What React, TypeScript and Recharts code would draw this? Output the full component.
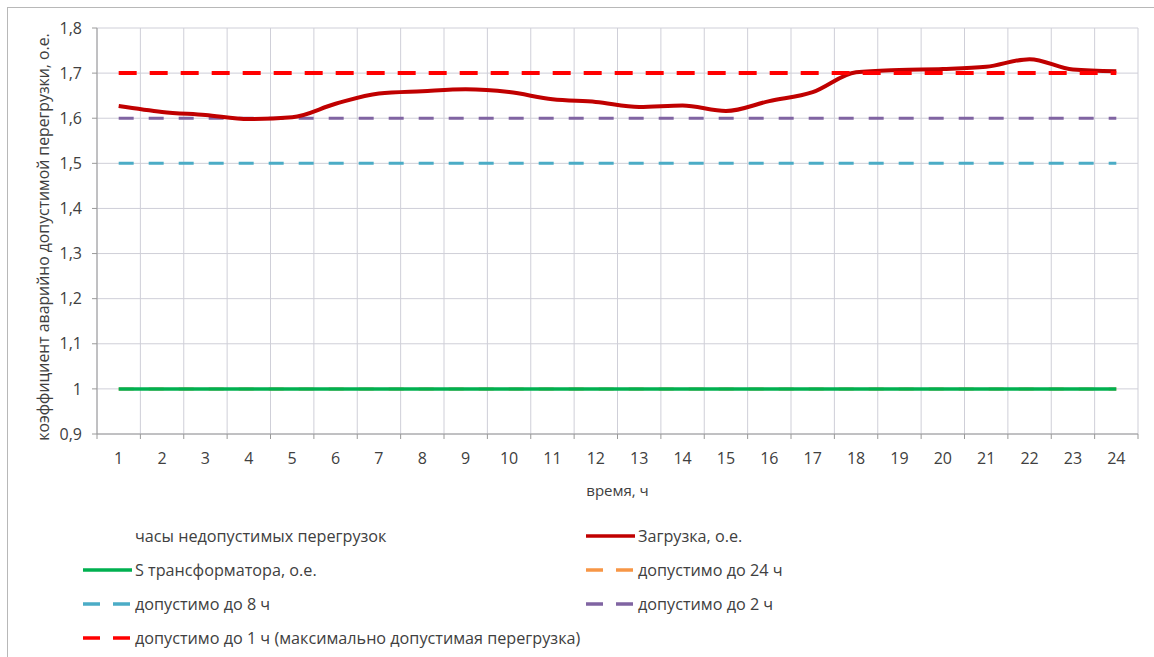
import { LineChart, Line, XAxis, YAxis, CartesianGrid, Legend } from "recharts";

const hours = [1, 2, 3, 4, 5, 6, 7, 8, 9, 10, 11, 12, 13, 14, 15, 16, 17, 18, 19, 20, 21, 22, 23, 24];
const hourEdges = [0.5, 1.5, 2.5, 3.5, 4.5, 5.5, 6.5, 7.5, 8.5, 9.5, 10.5, 11.5, 12.5, 13.5, 14.5, 15.5, 16.5, 17.5, 18.5, 19.5, 20.5, 21.5, 22.5, 23.5, 24.5];
const yTicks = [0.9, 1, 1.1, 1.2, 1.3, 1.4, 1.5, 1.6, 1.7, 1.8];
const xDomain: [number, number] = [0.5, 24.5];

// загрузка трансформатора по часам, о.е.
const load = [1.627, 1.614, 1.607, 1.598, 1.602, 1.632, 1.655, 1.66, 1.664, 1.658, 1.642, 1.636, 1.625, 1.628, 1.616, 1.638, 1.658, 1.702, 1.707, 1.709, 1.714, 1.731, 1.708, 1.704];

// постоянные уровни
const sTransformer = 1;
const allowed24h = 1;
const allowed8h = 1.5;
const allowed2h = 1.6;
const allowed1h = 1.7;

const table = hours.map((h, i) => ({
  hour: h,
  load: load[i],
  s: sTransformer,
  a24: allowed24h,
  a8: allowed8h,
  a2: allowed2h,
  a1: allowed1h,
}));

const font = "'Open Sans', 'Noto Sans', sans-serif";
const textColor = "#404040";
const axisColor = "#9a9a9a";

type Item = { name: string; color?: string; dash?: boolean };

const legendItems: Item[] = [
  { name: "часы недопустимых перегрузок" },
  { name: "Загрузка, о.е.", color: "#c00000" },
  { name: "S трансформатора, о.е.", color: "#00b050" },
  { name: "допустимо до 24 ч", color: "#f79646", dash: true },
  { name: "допустимо до 8 ч", color: "#4bacc6", dash: true },
  { name: "допустимо до 2 ч", color: "#8064a2", dash: true },
  { name: "допустимо до 1 ч (максимально допустимая перегрузка)", color: "#ff0000", dash: true },
];

const LegendBox = () => (
  <div
    style={{
      display: "grid",
      gridTemplateColumns: "503px 1fr",
      gridAutoRows: "34px",
      paddingLeft: 83,
      paddingTop: 15,
      fontFamily: font,
      fontSize: 16.2,
      color: textColor,
      textAlign: "left",
    }}
  >
    {legendItems.map((it) => (
      <div key={it.name} style={{ display: "flex", alignItems: "center", whiteSpace: "nowrap" }}>
        <svg width={52} height={10} style={{ flex: "none" }}>
          {it.color && (
            <line
              x1={0}
              x2={49}
              y1={5}
              y2={5}
              stroke={it.color}
              strokeWidth={3.5}
              strokeDasharray={it.dash ? "17 13" : undefined}
            />
          )}
        </svg>
        <span>{it.name}</span>
      </div>
    ))}
  </div>
);

const fmt = (v: number) => String(v).replace(".", ",");

// вертикальная сетка по границам часов
const edgeLines = ({ xAxis, offset }: any) =>
  hourEdges.map((v) => {
    const sc = xAxis && xAxis.scale;
    if (typeof sc === "function") return sc(v);
    if (sc && typeof sc.map === "function") return sc.map(v);
    return offset.left + ((v - xDomain[0]) / (xDomain[1] - xDomain[0])) * offset.width;
  });

export default function App() {
  return (
    <div style={{ position: "absolute", left: 0, top: 0, width: 1154, height: 657, background: "#fff" }}>
      <div
        style={{
          position: "absolute",
          left: 7,
          top: 7,
          width: 1147,
          height: 650,
          borderLeft: "1.5px solid #b8b8b8",
          borderTop: "1.5px solid #b8b8b8",
        }}
      />
      <div style={{ position: "absolute", left: 0, top: 0 }}>
        <LineChart
          width={1154}
          height={657}
          data={table}
          margin={{ top: 28, right: 16, bottom: 0, left: 0 }}
          style={{ fontFamily: font }}
        >
          <CartesianGrid
            xAxisId="hours"
            stroke="#cfcfd8"
            strokeWidth={1}
            verticalCoordinatesGenerator={edgeLines}
          />
          <XAxis
            xAxisId="edges"
            dataKey="hour"
            type="number"
            domain={xDomain}
            ticks={hourEdges}
            interval={0}
            height={1}
            tickSize={5}
            tick={{ fontSize: 1, fill: "transparent" }}
            axisLine={{ stroke: axisColor }}
            tickLine={{ stroke: axisColor }}
          />
          <XAxis
            xAxisId="hours"
            dataKey="hour"
            type="number"
            domain={xDomain}
            ticks={hours}
            interval={0}
            height={69}
            axisLine={false}
            tickLine={false}
            tickSize={0}
            tickMargin={18}
            tick={{ fontSize: 16, fill: textColor }}
            label={{ value: "время, ч", position: "insideBottom", offset: 8, fontSize: 15, fill: textColor }}
          />
          <YAxis
            domain={[0.9, 1.8]}
            ticks={yTicks}
            interval={0}
            width={97}
            tickFormatter={fmt}
            tickSize={5}
            tickMargin={10}
            axisLine={{ stroke: axisColor }}
            tickLine={{ stroke: axisColor }}
            tick={{ fontSize: 16, fill: textColor }}
            label={{
              value: "коэффициент аварийно допустимой перегрузки, о.е.",
              angle: -90,
              position: "center",
              dx: -5,
              dy: 6,
              fontSize: 15.8,
              fill: textColor,
            }}
          />
          <Legend verticalAlign="bottom" height={153} content={() => <LegendBox />} />
          <Line xAxisId="hours" dataKey="a24" name="допустимо до 24 ч" stroke="#f79646" strokeWidth={3} strokeDasharray="15 15" dot={false} isAnimationActive={false} />
          <Line xAxisId="hours" dataKey="s" name="S трансформатора, о.е." stroke="#00b050" strokeWidth={3.5} dot={false} isAnimationActive={false} />
          <Line xAxisId="hours" dataKey="a8" name="допустимо до 8 ч" stroke="#4bacc6" strokeWidth={3} strokeDasharray="15 15" dot={false} isAnimationActive={false} />
          <Line xAxisId="hours" dataKey="a2" name="допустимо до 2 ч" stroke="#8064a2" strokeWidth={3} strokeDasharray="15 15" dot={false} isAnimationActive={false} />
          <Line xAxisId="hours" type="monotone" dataKey="load" name="Загрузка, о.е." stroke="#c00000" strokeWidth={4} dot={false} isAnimationActive={false} />
          <Line xAxisId="hours" dataKey="a1" name="допустимо до 1 ч (максимально допустимая перегрузка)" stroke="#ff0000" strokeWidth={4} strokeDasharray="18 13" dot={false} isAnimationActive={false} />
        </LineChart>
      </div>
    </div>
  );
}
